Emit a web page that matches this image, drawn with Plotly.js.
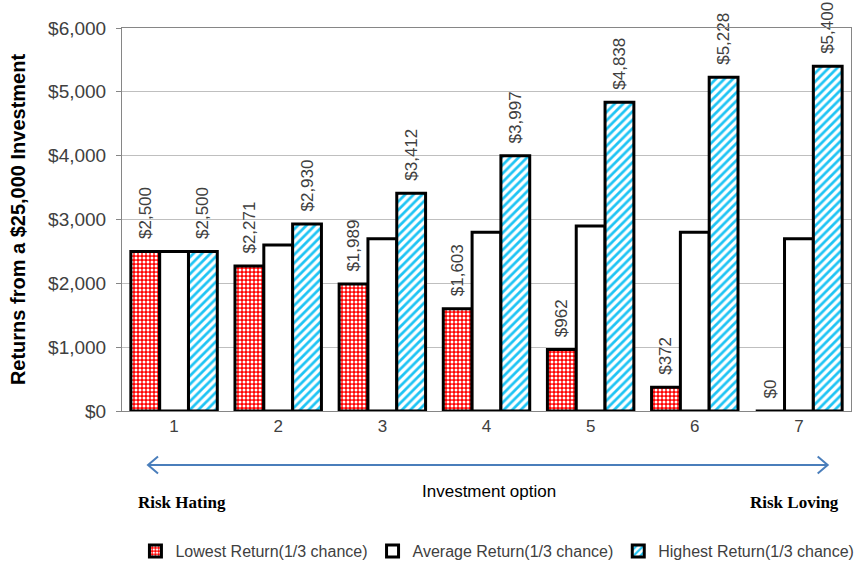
<!DOCTYPE html>
<html>
<head>
<meta charset="utf-8">
<script src="https://cdn.plot.ly/plotly-3.0.1.min.js"></script>
<style>
  html, body { margin: 0; padding: 0; background: #ffffff; }
  #chart { width: 866px; height: 565px; }
</style>
</head>
<body>
<div id="chart"></div>
<script>
// Investment options, from risk hating (1) to risk loving (7)
const options = ['1', '2', '3', '4', '5', '6', '7'];
const lowestReturn = [2500, 2271, 1989, 1603, 962, 372, 0];
const averageReturn = [2500, 2600, 2700, 2800, 2900, 2800, 2700];
const highestReturn = [2500, 2930, 3412, 3997, 4838, 5228, 5400];
const seriesNames = [
  'Lowest Return(1/3 chance)',
  'Average Return(1/3 chance)',
  'Highest Return(1/3 chance)'
];
const yTicks = [0, 1000, 2000, 3000, 4000, 5000, 6000];

const FONT = '"Liberation Sans", Arial, sans-serif';
const SERIF = '"Liberation Serif", "Times New Roman", serif';
const GREY_TEXT = '#404040';
const outline = { color: '#000000', width: 3 };
const valueFont = { family: FONT, size: 17, color: GREY_TEXT };
// leading no-break spaces keep the rotated value labels clear of the bar tops
const valueTemplate = '\u00a0\u00a0%{y:$,.0f}';

const traces = [
  {
    type: 'bar', name: seriesNames[0], x: options, y: lowestReturn,
    marker: {
      color: '#ff0000', line: outline,
      pattern: { shape: '.', bgcolor: '#ff0000', fgcolor: '#ffffff', size: 4, solidity: 0.45 }
    },
    texttemplate: valueTemplate, textposition: 'outside', textangle: -90,
    constraintext: 'none', cliponaxis: false, textfont: valueFont
  },
  {
    type: 'bar', name: seriesNames[1], x: options, y: averageReturn,
    marker: { color: '#ffffff', line: outline },
    cliponaxis: false
  },
  {
    type: 'bar', name: seriesNames[2], x: options, y: highestReturn,
    marker: {
      color: '#ffffff', line: outline,
      pattern: { shape: '/', bgcolor: '#ffffff', fgcolor: '#1ec4f4', size: 6, solidity: 0.45 }
    },
    texttemplate: valueTemplate, textposition: 'outside', textangle: -90,
    constraintext: 'none', cliponaxis: false, textfont: valueFont
  }
];

// Double-headed arrow under the category axis (paper coordinates)
const arrowY = -0.141, arrowL = 0.0357, arrowR = 0.968;
const headDx = 0.0137, headDy = 0.022;
const arrowColor = '#4a7ebb';
const shapes = [
  { type: 'line', xref: 'paper', yref: 'paper', x0: arrowL, x1: arrowR, y0: arrowY, y1: arrowY,
    line: { color: arrowColor, width: 2 } },
  { type: 'path', xref: 'paper', yref: 'paper',
    path: `M ${arrowL + headDx} ${arrowY + headDy} L ${arrowL} ${arrowY} L ${arrowL + headDx} ${arrowY - headDy}`,
    line: { color: arrowColor, width: 2 } },
  { type: 'path', xref: 'paper', yref: 'paper',
    path: `M ${arrowR - headDx} ${arrowY + headDy} L ${arrowR} ${arrowY} L ${arrowR - headDx} ${arrowY - headDy}`,
    line: { color: arrowColor, width: 2 } }
];

const annotations = [
  { xref: 'paper', yref: 'paper', x: 0.503, y: -0.21, xanchor: 'center', yanchor: 'middle', showarrow: false,
    text: 'Investment option', font: { family: FONT, size: 17, color: '#000000' } },
  { xref: 'paper', yref: 'paper', x: 0.082, y: -0.24, xanchor: 'center', yanchor: 'middle', showarrow: false,
    text: '<b>Risk Hating</b>', font: { family: SERIF, size: 17, color: '#000000' } },
  { xref: 'paper', yref: 'paper', x: 0.922, y: -0.24, xanchor: 'center', yanchor: 'middle', showarrow: false,
    text: '<b>Risk Loving</b>', font: { family: SERIF, size: 17, color: '#000000' } }
];

const layout = {
  width: 866, height: 565,
  margin: { l: 122, r: 15, t: 28, b: 154, autoexpand: false },
  paper_bgcolor: '#ffffff', plot_bgcolor: '#ffffff',
  font: { family: FONT, color: GREY_TEXT },
  barmode: 'group', bargap: 0.17, bargroupgap: 0,
  showlegend: true,
  legend: {
    orientation: 'h', x: 0.515, xanchor: 'center', y: -0.366, yanchor: 'middle',
    font: { family: FONT, size: 16, color: GREY_TEXT }, itemwidth: 30, tracegroupgap: 0
  },
  xaxis: {
    type: 'category', showgrid: false, showline: true, linecolor: '#868686', mirror: true,
    ticks: '', tickfont: { family: FONT, size: 17, color: GREY_TEXT }
  },
  yaxis: {
    range: [0, 6000], tickvals: yTicks, tickformat: '$,.0f',
    showgrid: true, gridcolor: '#bfbfbf', gridwidth: 1,
    showline: true, linecolor: '#868686', mirror: true,
    ticks: 'outside', ticklen: 5, tickcolor: '#868686', ticklabelstandoff: 6,
    tickfont: { family: FONT, size: 19, color: GREY_TEXT },
    zeroline: false,
    title: { text: '<b>Returns from a $25,000 Investment</b>', standoff: 17,
      font: { family: FONT, size: 20, color: '#000000' } }
  },
  shapes: shapes,
  annotations: annotations
};

Plotly.newPlot('chart', traces, layout, { displayModeBar: false, staticPlot: true });
</script>
</body>
</html>
